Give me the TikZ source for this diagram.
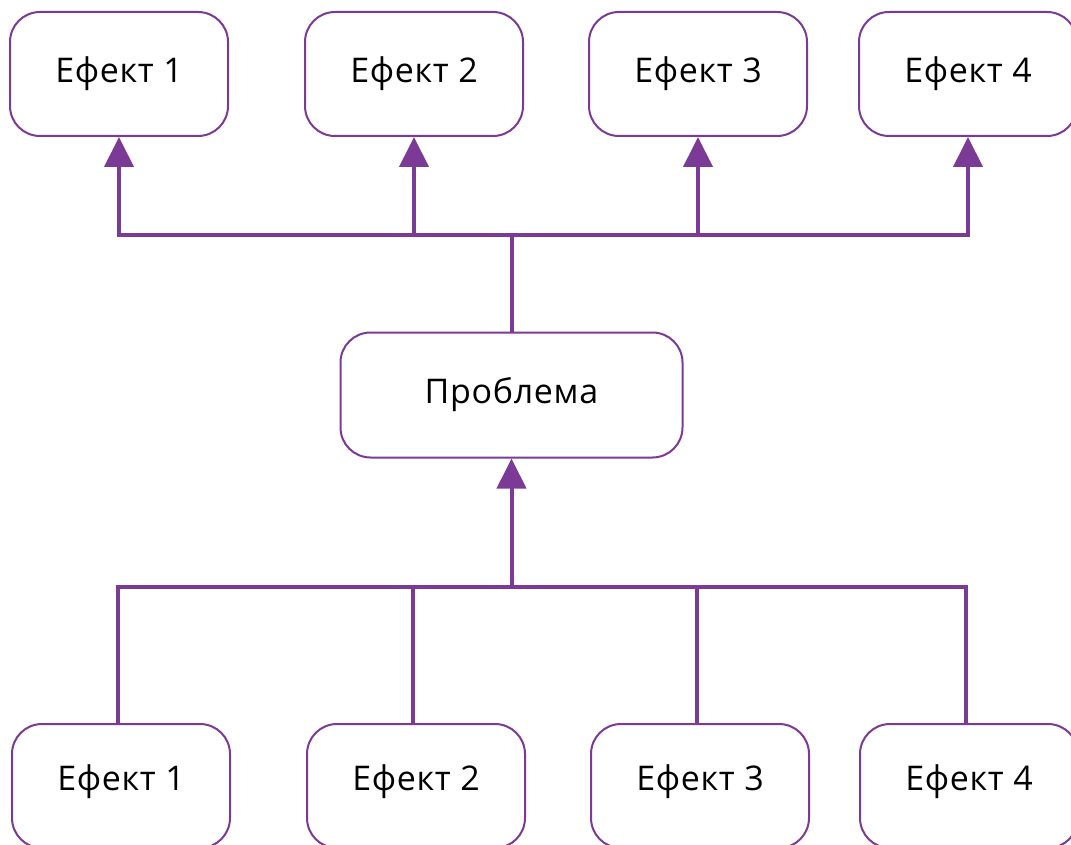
\documentclass[tikz,border=0pt]{standalone}
\usepackage{fontspec}
\setmainfont{Open Sans}[LetterSpace=2]
\usetikzlibrary{arrows.meta}
\definecolor{purp}{HTML}{7B3A96}
\tikzset{
  box/.style={draw=purp, line width=2pt, rounded corners=30pt, minimum width=218pt, minimum height=124pt, inner sep=0pt, fill=white, font=\fontsize{34}{40}\selectfont},
  bigbox/.style={box, minimum width=342pt, minimum height=125pt},
  conn/.style={draw=purp, line width=4pt, line join=miter},
  arr/.style={conn, -{Triangle[length=30pt,width=29pt]}},
  darr/.style={conn, {Triangle[length=30pt,width=29pt]}-{Triangle[length=30pt,width=29pt]}}
}
\begin{document}
\begin{tikzpicture}[x=1pt,y=1pt]
\useasboundingbox (0,0) rectangle (1071,-845);
\clip (0,0) rectangle (1071,-845);
% top effects
\node[box] (t1) at (119,-74) {\raisebox{9pt}{Ефект 1}};
\node[box] (t2) at (414,-74) {\raisebox{9pt}{Ефект 2}};
\node[box] (t3) at (698,-74) {\raisebox{9pt}{Ефект 3}};
\node[box] (t4) at (968,-74) {\raisebox{9pt}{Ефект 4}};
% problem
\node[bigbox] (p) at (511.5,-395) {\raisebox{10pt}{Проблема}};
% bottom
\node[box] (b1) at (121,-786) {\raisebox{16pt}{Ефект 1}};
\node[box] (b2) at (416,-786) {\raisebox{16pt}{Ефект 2}};
\node[box] (b3) at (700,-786) {\raisebox{16pt}{Ефект 3}};
\node[box] (b4) at (969,-786) {\raisebox{16pt}{Ефект 4}};
\coordinate (jt) at (511.5,-235);
\coordinate (jb) at (511.5,-587);
% top connectors
\draw[darr] (t1.south) -- (t1.south |- jt) -- (t4.south |- jt) -- (t4.south);
\draw[arr] (t2.south |- jt) -- (t2.south);
\draw[arr] (t3.south |- jt) -- (t3.south);
\draw[conn] (jt) -- (p.north);
% bottom connectors
\coordinate (b1n) at ([xshift=-3pt]b1.north);
\coordinate (b2n) at ([xshift=-3pt]b2.north);
\coordinate (b3n) at ([xshift=-3pt]b3.north);
\coordinate (b4n) at ([xshift=-3pt]b4.north);
\draw[conn] (b1n) -- (b1n |- jb) -- (b4n |- jb) -- (b4n);
\draw[conn] (b2n |- jb) -- (b2n);
\draw[conn] (b3n |- jb) -- (b3n);
\draw[arr] (jb) -- (p.south);
\end{tikzpicture}
\end{document}
